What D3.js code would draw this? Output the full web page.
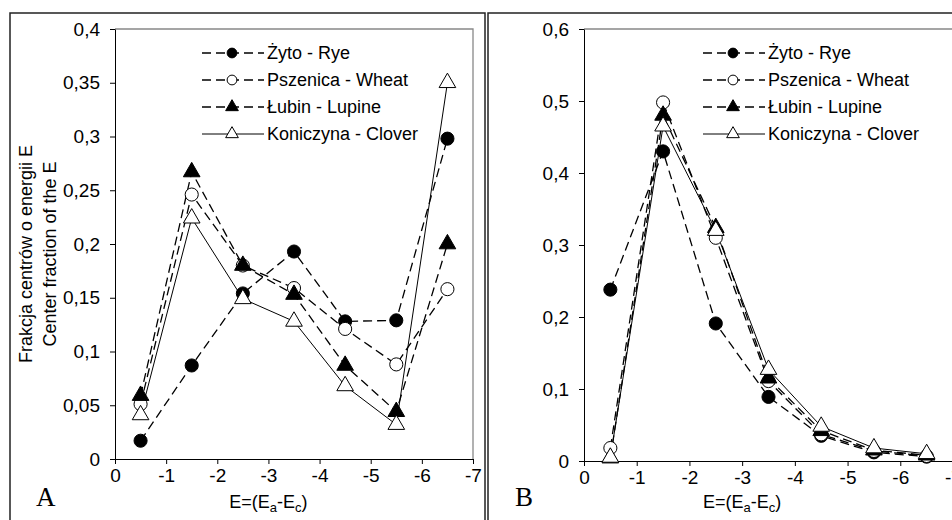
<!DOCTYPE html>
<html>
<head>
<meta charset="utf-8">
<script src="https://cdn.jsdelivr.net/npm/d3@7"></script>
<style>
  html, body { margin: 0; padding: 0; background: #fff; }
  svg { display: block; font-family: "Liberation Sans", Arial, sans-serif; }
  .frame { fill: none; stroke: #222; stroke-width: 1.5; }
  .box { fill: none; stroke: #888; stroke-width: 1.3; }
  .axis path, .axis line { stroke: #000; stroke-width: 1; }
  .lbl { font-size: 18px; fill: #000; }
  .panel-id { font-family: "Liberation Serif", "Times New Roman", serif; font-size: 27px; }
</style>
</head>
<body>
<svg id="chart" width="952" height="520"></svg>
<script>
// energy bins (centres) and axis ticks
const xCenters = [-0.5, -1.5, -2.5, -3.5, -4.5, -5.5, -6.5];
const xTicks = [0, -1, -2, -3, -4, -5, -6, -7];
const yTicksA = [0, 0.05, 0.1, 0.15, 0.2, 0.25, 0.3, 0.35, 0.4];
const yTicksB = [0, 0.1, 0.2, 0.3, 0.4, 0.5, 0.6];

const seriesNames = ['Żyto - Rye', 'Pszenica - Wheat', 'Łubin - Lupine', 'Koniczyna - Clover'];

// panel A
const ryeA = [0.017, 0.087, 0.154, 0.193, 0.128, 0.129, 0.298];
const wheatA = [0.051, 0.246, 0.180, 0.159, 0.121, 0.088, 0.158];
const lupineA = [0.059, 0.267, 0.180, 0.153, 0.087, 0.044, 0.200];
const cloverA = [0.041, 0.224, 0.149, 0.128, 0.068, 0.032, 0.350];

// panel B
const ryeB = [0.238, 0.430, 0.191, 0.089, 0.035, 0.012, 0.006];
const wheatB = [0.018, 0.498, 0.310, 0.111, 0.037, 0.014, 0.007];
const lupineB = [0.004, 0.480, 0.324, 0.115, 0.042, 0.015, 0.008];
const cloverB = [0.005, 0.465, 0.320, 0.127, 0.048, 0.018, 0.010];

const styles = [
  { sym: d3.symbolCircle, fill: '#000', dash: '9,5' },
  { sym: d3.symbolCircle, fill: '#fff', dash: '9,5' },
  { sym: d3.symbolTriangle, fill: '#000', dash: '9,5' },
  { sym: d3.symbolTriangle, fill: '#fff', dash: null }
];

const svg = d3.select('#chart');

// outer frames of both panels
svg.append('rect').attr('class', 'frame').attr('x', 10).attr('y', 13).attr('width', 475).attr('height', 530);
svg.append('rect').attr('class', 'frame').attr('x', 488).attr('y', 13).attr('width', 480).attr('height', 530);

function comma(d) {
  return String(d).replace('.', ',');
}

function styleTicks(a) {
  a.attr('font-size', null).attr('font-family', null);
  a.selectAll('text').attr('font-size', 19).attr('fill', '#000');
}

function drawPanel(cfg) {
  const x = d3.scaleLinear().domain([0, -7]).range([cfg.left, cfg.right]);
  const y = d3.scaleLinear().domain([0, cfg.yMax]).range([cfg.bottom, cfg.top]);
  const g = svg.append('g');

  // grey top/right border of the plot area
  g.append('path').attr('class', 'box')
    .attr('d', `M${cfg.left},${cfg.top}H${cfg.right}V${cfg.bottom}`);

  g.append('g').attr('class', 'axis')
    .attr('transform', `translate(0,${cfg.bottom})`)
    .call(d3.axisBottom(x).tickValues(xTicks).tickFormat((d) => String(d)).tickSize(5).tickSizeOuter(0).tickPadding(5))
    .call(styleTicks)
    .call((a) => a.selectAll('text').attr('dy', '0.71em'));

  g.append('g').attr('class', 'axis')
    .attr('transform', `translate(${cfg.left},0)`)
    .call(d3.axisLeft(y).tickValues(cfg.yTicks).tickFormat(comma).tickSize(5).tickSizeOuter(0).tickPadding(10))
    .call(styleTicks);

  const line = d3.line().x((d, i) => x(xCenters[i])).y((d) => y(d));

  cfg.series.forEach((vals, k) => {
    g.append('path')
      .attr('d', line(vals))
      .attr('fill', 'none')
      .attr('stroke', '#000')
      .attr('stroke-width', styles[k].dash ? 1.3 : 1)
      .attr('stroke-dasharray', styles[k].dash);
  });

  cfg.series.forEach((vals, k) => {
    const sym = d3.symbol().type(styles[k].sym).size(styles[k].sym === d3.symbolCircle ? 135 : 120);
    g.append('g').selectAll('path')
      .data(vals)
      .join('path')
      .attr('transform', (d, i) => `translate(${x(xCenters[i])},${y(d)})`)
      .attr('d', sym)
      .attr('fill', styles[k].fill)
      .attr('stroke', '#000')
      .attr('stroke-width', 1);
  });

  // legend
  seriesNames.forEach((name, k) => {
    const ly = cfg.legY + k * 27;
    const lx = cfg.legX;
    g.append('line')
      .attr('x1', lx).attr('x2', lx + 62).attr('y1', ly).attr('y2', ly)
      .attr('stroke', '#000').attr('stroke-width', styles[k].dash ? 1.3 : 1)
      .attr('stroke-dasharray', styles[k].dash);
    g.append('path')
      .attr('transform', `translate(${lx + 30},${ly})`)
      .attr('d', d3.symbol().type(styles[k].sym).size(styles[k].sym === d3.symbolCircle ? 75 : 70))
      .attr('fill', styles[k].fill).attr('stroke', '#000');
    g.append('text').attr('class', 'lbl')
      .attr('x', lx + 65).attr('y', ly).attr('dy', '0.35em')
      .text(name);
  });

  // x axis title centred under -3
  const t = g.append('text').attr('class', 'lbl')
    .attr('x', x(-3)).attr('y', 508).attr('text-anchor', 'middle').attr('font-size', 19);
  t.append('tspan').text('E=(E');
  t.append('tspan').attr('font-size', 13).attr('dy', 4).text('a');
  t.append('tspan').attr('dy', -4).text('-E');
  t.append('tspan').attr('font-size', 13).attr('dy', 4).text('c');
  t.append('tspan').attr('dy', -4).text(')');

  g.append('text').attr('class', 'panel-id')
    .attr('x', cfg.idX).attr('y', 506).text(cfg.id);
}

drawPanel({
  left: 115, right: 473, top: 29, bottom: 459, yMax: 0.4, yTicks: yTicksA,
  series: [ryeA, wheatA, lupineA, cloverA], legX: 202, legY: 53, id: 'A', idX: 36
});

drawPanel({
  left: 584, right: 953, top: 29, bottom: 461, yMax: 0.6, yTicks: yTicksB,
  series: [ryeB, wheatB, lupineB, cloverB], legX: 703, legY: 53, id: 'B', idX: 515
});

// y axis title of panel A (two lines)
const yt = svg.append('g').attr('transform', 'translate(0,254) rotate(-90)');
yt.append('text').attr('class', 'lbl').attr('x', 0).attr('y', 32).attr('text-anchor', 'middle')
  .text('Frakcja centrów o energii E');
yt.append('text').attr('class', 'lbl').attr('x', 0).attr('y', 56).attr('text-anchor', 'middle')
  .text('Center fraction of the E');
</script>
</body>
</html>
